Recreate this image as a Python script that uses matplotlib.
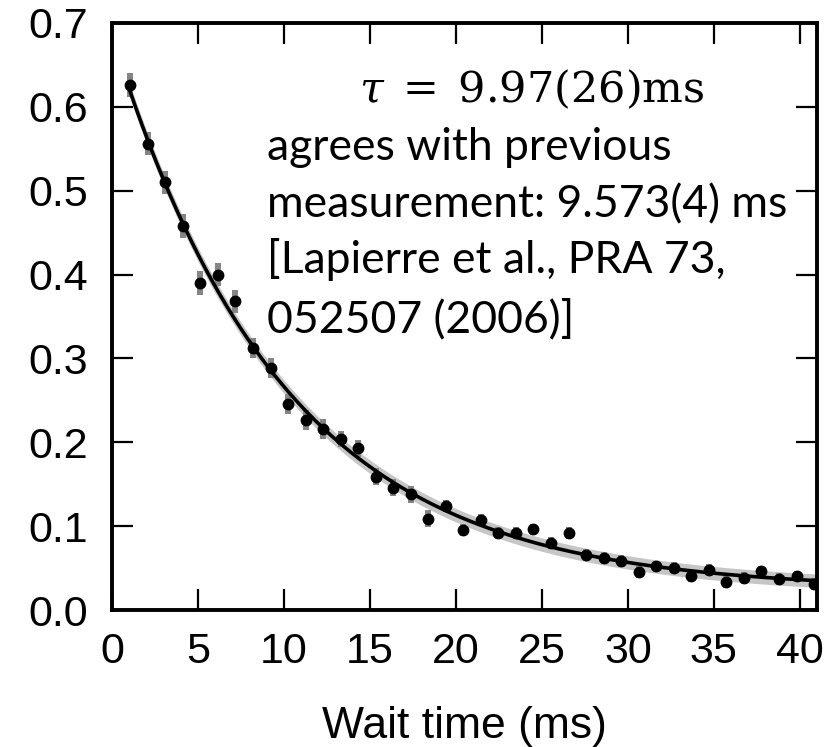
import numpy as np
import matplotlib
matplotlib.use('Agg')
import matplotlib.pyplot as plt

# measured populations vs wait time
wait_time = [1.06, 2.08, 3.10, 4.12, 5.14, 6.16, 7.18, 8.20, 9.22, 10.24,
             11.26, 12.28, 13.30, 14.32, 15.34, 16.36, 17.38, 18.40, 19.42, 20.44,
             21.46, 22.47, 23.49, 24.51, 25.53, 26.55, 27.57, 28.59, 29.61, 30.63,
             31.65, 32.67, 33.69, 34.71, 35.73, 36.75, 37.77, 38.79, 39.81, 40.83]
signal = [0.626, 0.556, 0.510, 0.458, 0.390, 0.400, 0.368, 0.312, 0.289, 0.246,
          0.227, 0.216, 0.204, 0.193, 0.159, 0.146, 0.138, 0.109, 0.124, 0.095,
          0.107, 0.092, 0.092, 0.096, 0.080, 0.092, 0.066, 0.062, 0.058, 0.045,
          0.052, 0.050, 0.040, 0.048, 0.033, 0.038, 0.046, 0.037, 0.040, 0.031]
signal_err = [0.014, 0.014, 0.014, 0.014, 0.014, 0.014, 0.014, 0.012, 0.012, 0.012,
              0.012, 0.012, 0.010, 0.010, 0.010, 0.010, 0.010, 0.010, 0.007, 0.007,
              0.007, 0.007, 0.007, 0.007, 0.007, 0.007, 0.007, 0.007, 0.007, 0.007,
              0.007, 0.007, 0.007, 0.007, 0.007, 0.007, 0.007, 0.007, 0.007, 0.007]

tau = 9.97          # ms, fitted lifetime
band = 0.008        # half width of fit confidence band

xticks = [0, 5, 10, 15, 20, 25, 30, 35, 40]
yticks = [0.0, 0.1, 0.2, 0.3, 0.4, 0.5, 0.6, 0.7]

W, H = 827, 747


def fit_curve(t, y):
    # y = C + A exp(-t/tau), linear in A and C
    M = np.column_stack([np.exp(-np.asarray(t) / tau), np.ones(len(t))])
    (A, C), *_ = np.linalg.lstsq(M, np.asarray(y), rcond=None)
    return A, C


def main():
    plt.rcParams['mathtext.fontset'] = 'dejavuserif'
    fig = plt.figure(figsize=(W / 100, H / 100), dpi=100)
    ax = fig.add_axes([112 / W, 1 - 610 / H, (817 - 112) / W, (610 - 23) / H])

    A, C = fit_curve(wait_time, signal)
    tt = np.linspace(0.95, 41.5, 300)
    yy = C + A * np.exp(-tt / tau)

    ax.fill_between(tt, yy - band, yy + band, color='#c6c6c6', lw=0, zorder=1)
    ax.errorbar(wait_time, signal, yerr=signal_err, fmt='none', ecolor='#858585',
                elinewidth=4.3, capsize=0, zorder=2)
    ax.plot(tt, yy, color='black', lw=2.6, zorder=3)
    ax.plot(wait_time, signal, 'o', color='black', ms=7.5, mec='black', zorder=4)

    ax.set_xlim(0, 41)
    ax.set_ylim(0, 0.7)
    ax.set_xticks(xticks)
    ax.set_yticks(yticks)
    ax.set_yticklabels(['%.1f' % v for v in yticks])
    ax.tick_params(direction='in', length=15, width=1.6, top=True, right=True,
                   labelsize=31)
    ax.tick_params(axis='x', pad=16)
    ax.tick_params(axis='y', pad=17)
    for lab in ax.get_xticklabels() + ax.get_yticklabels():
        lab.set_family('Liberation Sans')
    for sp in ax.spines.values():
        sp.set_linewidth(2.8)

    ax.set_xlabel('Wait time (ms)', fontsize=32, family='Liberation Sans', labelpad=24)

    fig.text(532 / W, 1 - 102 / H, r'$\tau\;=\;9.97(26)\mathrm{ms}$', fontsize=31,
             ha='center', va='baseline')
    lines = ['agrees with previous', 'measurement: 9.573(4) ms',
             '[Lapierre et al., PRA 73,', '052507 (2006)]']
    baselines = [160, 217, 273, 332]
    for s, b in zip(lines, baselines):
        fig.text(267 / W, 1 - b / H, s, fontsize=32, family='Lato',
                 ha='left', va='baseline')

    fig.savefig('out.png', dpi=100)


main()
